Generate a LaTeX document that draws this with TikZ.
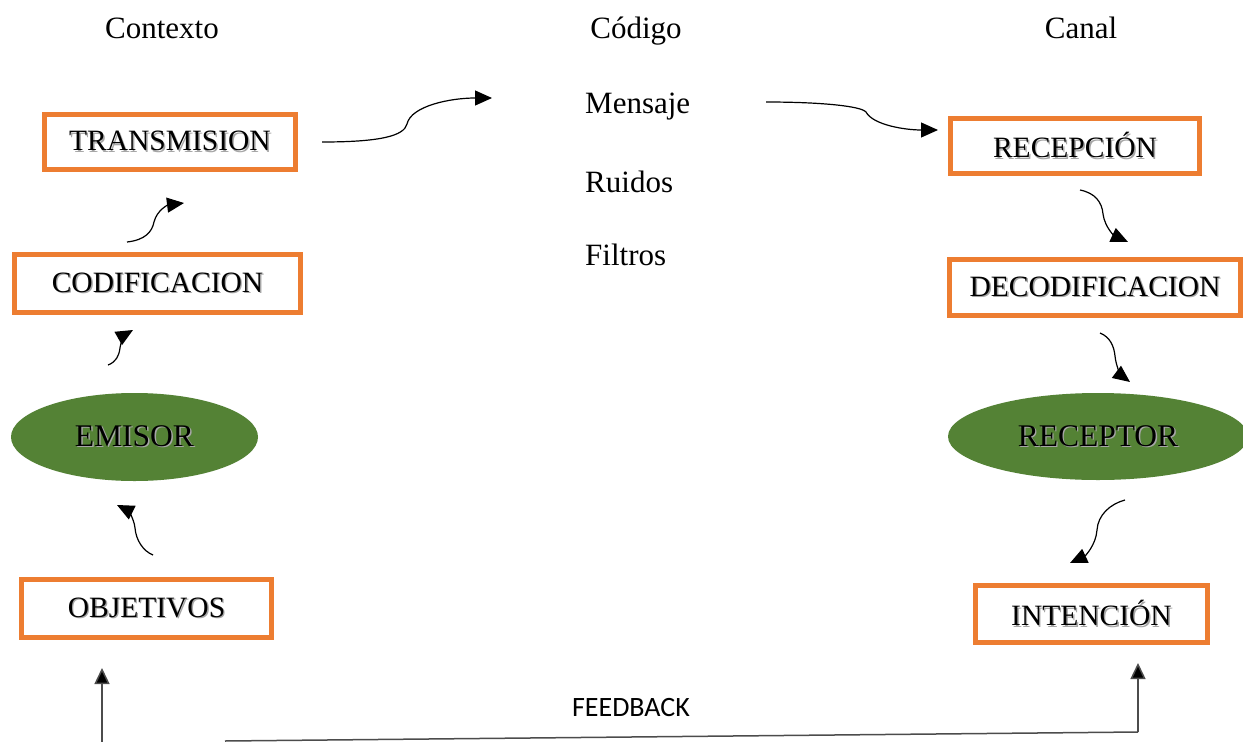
\documentclass[tikz,border=0pt]{standalone}
\usepackage{fontspec}
\setmainfont{Liberation Serif}
\newfontfamily\fbfont{Carlito}
\usetikzlibrary{arrows.meta,shapes.geometric}
\definecolor{boxorange}{HTML}{ED7D31}
\definecolor{ellgreen}{HTML}{548235}
\newcommand\shtxt[1]{\makebox[0pt][l]{\hspace{1.4pt}\raisebox{-1.4pt}{\color{black!35}#1}}#1}
\tikzset{
  obox/.style={draw=boxorange,line width=5pt,fill=white,inner sep=0pt,
    font=\fontsize{29.5}{34}\selectfont},
  gell/.style={ellipse,fill=ellgreen,inner sep=0pt,font=\fontsize{31.5}{36}\selectfont},
  hdr/.style={inner sep=0pt,anchor=base,font=\fontsize{31}{36}\selectfont},
  mid/.style={inner sep=0pt,anchor=base west,font=\fontsize{31}{36}\selectfont},
  conn/.style={line width=1.2pt,-{Triangle[length=17pt,width=15pt]}},
  fbline/.style={line width=1.5pt,draw=black!70},
  fbarrow/.style={fbline,-{Triangle[length=16pt,width=15pt,fill=black]}},
}
\begin{document}
\begin{tikzpicture}[x=1pt,y=-1pt]
\clip (0,0) rectangle (1243,742);
\fill[white] (0,0) rectangle (1243,742);

% headers
\node[hdr] (hctx) at (162,38) {Contexto};
\node[hdr] (hcod) at (636,38) {Código};
\node[hdr] (hcan) at (1081,38) {Canal};

% middle column
\node[mid] (mens) at (585,113) {Mensaje};
\node[mid] (ruid) at (585,192) {Ruidos};
\node[mid] (filt) at (585,265) {Filtros};

% left column
\node[obox,minimum width=251,minimum height=55] (trans) at (170,142) {\shtxt{TRANSMISION}};
\node[obox,minimum width=286,minimum height=58] (codif) at (157.5,283.5) {\shtxt{CODIFICACION}};
\node[gell,minimum width=247,minimum height=88] (emis) at (134.5,437) {\shtxt{EMISOR}};
\node[obox,minimum width=250,minimum height=58] (objet) at (146.5,608.5) {\shtxt{OBJETIVOS}};

% right column
\node[obox,minimum width=249,minimum height=55] (recep) at (1075,146) {\shtxt{RECEPCIÓN}};
\node[obox,minimum width=291,minimum height=56] (decod) at (1095,287.5) {\shtxt{DECODIFICACION}};
\node[gell,minimum width=300,minimum height=87] (recpt) at (1098,436.5) {\shtxt{RECEPTOR}};
\node[obox,minimum width=232,minimum height=57] (inten) at (1091.5,614) {\shtxt{INTENCIÓN}};

% feedback label
\node[inner sep=0pt,font=\fbfont\fontsize{28}{32}\selectfont] (fb) at (631,708) {FEEDBACK};

% connector end points
\coordinate (a1s) at (322,142);   \coordinate (a1e) at (492,98);
\coordinate (a2s) at (766,102);   \coordinate (a2e) at (938,130);
\coordinate (a3s) at (127,242);   \coordinate (a3e) at (184,203);
\coordinate (a4s) at (108,365);   \coordinate (a4e) at (133,330);
\coordinate (a5s) at (153,555);   \coordinate (a5e) at (117,505);
\coordinate (a6s) at (1080,190);  \coordinate (a6e) at (1128,242);
\coordinate (a7s) at (1100,333);  \coordinate (a7e) at (1130,382);
\coordinate (a8s) at (1125,500);  \coordinate (a8e) at (1070,563);
\coordinate (fbL) at (225,741);   \coordinate (fbR) at (1138,732);
\coordinate (fbRt) at (1138,663);
\coordinate (fbLb) at (102,745);  \coordinate (fbLt) at (102,668);

% connectors
\draw[conn] (a1s) .. controls (380,142) and (404,136) .. (407,124)
  .. controls (411,106) and (450,98) .. (a1e);
\draw[conn] (a2s) .. controls (820,102) and (861,106) .. (866,112)
  .. controls (873,125) and (905,130) .. (a2e);
\draw[conn] (a3s) .. controls (145,240) and (152,232) .. (154,222)
  .. controls (157,210) and (168,205) .. (a3e);
\draw[conn] (a4s) .. controls (116,362) and (119,356) .. (120,348)
  .. controls (121,340) and (126,334) .. (a4e);
\draw[conn] (a5s) .. controls (143,551) and (136,540) .. (135,528)
  .. controls (134,518) and (127,510) .. (a5e);
\draw[conn] (a6s) .. controls (1095,193) and (1102,202) .. (1103,214)
  .. controls (1105,228) and (1115,236) .. (a6e);
\draw[conn] (a7s) .. controls (1110,337) and (1114,346) .. (1115,356)
  .. controls (1116,367) and (1122,376) .. (a7e);
\draw[conn] (a8s) .. controls (1110,504) and (1098,515) .. (1097,530)
  .. controls (1096,545) and (1085,556) .. (a8e);

% feedback lines
\draw[fbline] (fbL) -- (fbR);
\draw[fbarrow] (fbR) -- (fbRt);
\draw[fbarrow] (fbLb) -- (fbLt);
\end{tikzpicture}
\end{document}
